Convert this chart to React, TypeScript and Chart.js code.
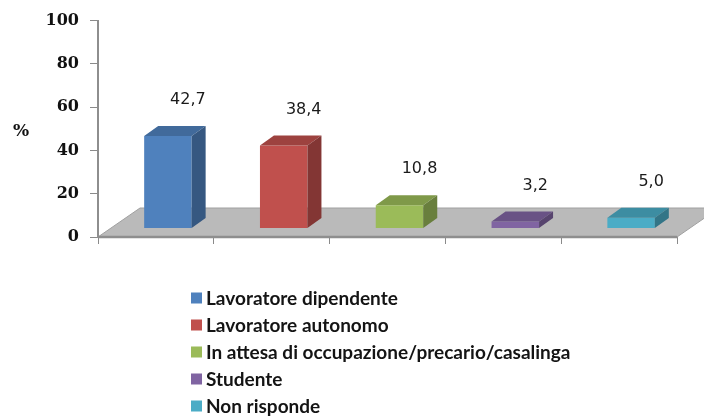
import React, { useEffect, useRef } from "react";
import { Chart, registerables } from "chart.js";

Chart.register(...registerables);

const categories = [
  "Lavoratore dipendente",
  "Lavoratore autonomo",
  "In attesa di occupazione/precario/casalinga",
  "Studente",
  "Non risponde",
];
const values = [42.7, 38.4, 10.8, 3.2, 5.0];
const colors = ["#4F81BD", "#C0504D", "#9BBB59", "#8064A2", "#4BACC6"];
const yMin = 0;
const yMax = 100;
const yStep = 20;
const yUnit = "%";

function shade(hex: string, f: number) {
  const n = parseInt(hex.slice(1), 16);
  const r = Math.round(((n >> 16) & 255) * f);
  const g = Math.round(((n >> 8) & 255) * f);
  const b = Math.round((n & 255) * f);
  return `rgb(${r},${g},${b})`;
}

const FRONT = { x: 12, y: -8.5 };
const DEPTH = { x: 14, y: -10 };
const FLOOR = { x: 42, y: -29 };

const threeD = {
  id: "threeD",
  beforeDatasetsDraw(chart: any) {
    const { ctx, chartArea } = chart;
    const l = chartArea.left, r = chartArea.right, b = chartArea.bottom;
    ctx.save();
    ctx.beginPath();
    ctx.moveTo(l, b);
    ctx.lineTo(r, b);
    ctx.lineTo(r + FLOOR.x, b + FLOOR.y);
    ctx.lineTo(l + FLOOR.x, b + FLOOR.y);
    ctx.closePath();
    ctx.fillStyle = "#bababa";
    ctx.fill();
    ctx.strokeStyle = "#a0a0a0";
    ctx.lineWidth = 1;
    ctx.stroke();
    ctx.beginPath();
    ctx.moveTo(l, b);
    ctx.lineTo(r, b);
    ctx.strokeStyle = "#8e8e8e";
    ctx.lineWidth = 2.5;
    ctx.stroke();
    ctx.restore();
    ctx.save();
    ctx.translate(FRONT.x, FRONT.y);
  },
  afterDatasetsDraw(chart: any) {
    const { ctx } = chart;
    ctx.restore();
    const meta = chart.getDatasetMeta(0);
    meta.data.forEach((bar: any, i: number) => {
      const p = bar.getProps(["x", "y", "base", "width"], true);
      const left = p.x - p.width / 2 + FRONT.x;
      const right = p.x + p.width / 2 + FRONT.x;
      const top = p.y + FRONT.y;
      const bottom = p.base + FRONT.y;
      const c = colors[i % colors.length];
      ctx.save();
      // top face
      ctx.beginPath();
      ctx.moveTo(left, top);
      ctx.lineTo(right, top);
      ctx.lineTo(right + DEPTH.x, top + DEPTH.y);
      ctx.lineTo(left + DEPTH.x, top + DEPTH.y);
      ctx.closePath();
      ctx.fillStyle = shade(c, 0.82);
      ctx.fill();
      // side face
      ctx.beginPath();
      ctx.moveTo(right, top);
      ctx.lineTo(right + DEPTH.x, top + DEPTH.y);
      ctx.lineTo(right + DEPTH.x, bottom + DEPTH.y);
      ctx.lineTo(right, bottom);
      ctx.closePath();
      ctx.fillStyle = shade(c, 0.68);
      ctx.fill();
      // value label
      ctx.font = "16px 'DejaVu Sans'";
      ctx.fillStyle = "#1a1a1a";
      ctx.textAlign = "center";
      ctx.textBaseline = "middle";
      const txt = values[i].toFixed(1).replace(".", ",");
      ctx.fillText(txt, (left + right) / 2 + 20, top - 36);
      ctx.restore();
    });
  },
  afterDraw(chart: any) {
    const { ctx } = chart;
    ctx.save();
    // unit label
    ctx.font = "bold 17px 'DejaVu Serif'";
    ctx.fillStyle = "#111";
    ctx.textAlign = "center";
    ctx.textBaseline = "middle";
    ctx.fillText(yUnit, 21, 132);
    // legend
    ctx.font = "bold 19px Lato";
    ctx.textAlign = "left";
    categories.forEach((cat, i) => {
      const cy = 298 + i * 27;
      ctx.fillStyle = colors[i];
      ctx.fillRect(191, cy - 5.5, 11, 11);
      ctx.fillStyle = "#141414";
      ctx.fillText(cat, 206, cy + 1);
    });
    ctx.restore();
  },
};

export default function App() {
  const ref = useRef<HTMLCanvasElement>(null);
  useEffect(() => {
    if (!ref.current) return;
    const chart = new Chart(ref.current, {
      type: "bar",
      data: {
        labels: categories,
        datasets: [
          {
            data: values,
            backgroundColor: colors,
            borderWidth: 0,
            categoryPercentage: 1,
            barPercentage: 0.41,
          },
        ],
      },
      options: {
        animation: false,
        responsive: true,
        maintainAspectRatio: false,
        layout: { padding: { left: 0, right: 27, top: 18, bottom: 170 } },
        plugins: {
          legend: { display: false },
          tooltip: { enabled: false },
        },
        scales: {
          x: {
            ticks: { display: false },
            grid: {
              display: true,
              drawOnChartArea: false,
              drawTicks: true,
              tickLength: 7,
              color: "#8a8a8a",
              offset: true,
            },
            border: { display: true, color: "#8e8e8e", width: 2 },
            afterFit: (s: any) => {
              s.height = 10;
            },
          },
          y: {
            min: yMin,
            max: yMax,
            ticks: {
              stepSize: yStep,
              padding: 11,
              color: "#111",
              font: { family: "'DejaVu Serif'", size: 16, weight: "bold" },
            },
            grid: {
              display: true,
              drawOnChartArea: false,
              drawTicks: true,
              tickLength: 8,
              color: "#8a8a8a",
            },
            border: { display: true, color: "#8e8e8e", width: 2 },
            afterFit: (s: any) => {
              s.width = 98;
            },
          },
        },
      },
      plugins: [threeD],
    });
    return () => chart.destroy();
  }, []);
  return (
    <div style={{ position: "absolute", left: 0, top: 0, width: 704, height: 417, background: "#fff" }}>
      <canvas ref={ref} />
    </div>
  );
}
